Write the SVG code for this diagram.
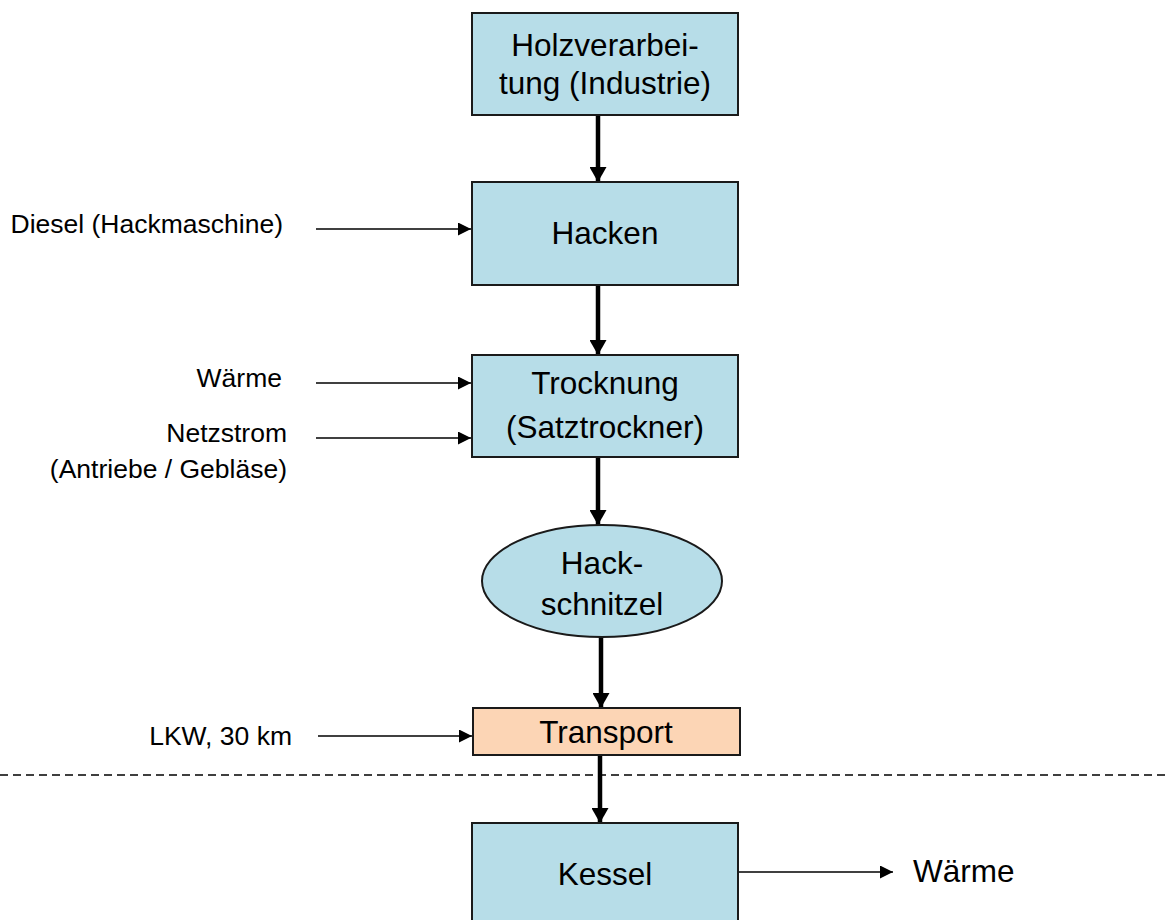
<svg xmlns="http://www.w3.org/2000/svg" width="1170" height="920" viewBox="0 0 1170 920">
<style>
.box{fill:#B7DDE8;stroke:#1a1a1a;stroke-width:2}
.peach{fill:#FCD5B5;stroke:#1a1a1a;stroke-width:2}
.t{font-family:"Liberation Sans",Arial,sans-serif;font-size:31.5px;fill:#000;text-anchor:middle}
.s{font-family:"Liberation Sans",Arial,sans-serif;font-size:26.5px;fill:#000;text-anchor:end}
.thick{stroke:#000;stroke-width:4.5;fill:none}
.thin{stroke:#000;stroke-width:1.6;fill:none}
</style>
<defs>
<marker id="ah" markerUnits="userSpaceOnUse" markerWidth="16" markerHeight="17" refX="15" refY="8.5" orient="auto">
<path d="M0,0 L15,8.5 L0,17 z" fill="#000"/>
</marker>
<marker id="as" markerUnits="userSpaceOnUse" markerWidth="14" markerHeight="13" refX="13" refY="6.5" orient="auto">
<path d="M0,0 L13,6.5 L0,13 z" fill="#000"/>
</marker>
</defs>
<rect width="1170" height="920" fill="#fff"/>

<g id="connectors">
<line class="thick" x1="598" y1="116" x2="598" y2="182" marker-end="url(#ah)"/>
<line class="thick" x1="598" y1="286" x2="598" y2="355" marker-end="url(#ah)"/>
<line class="thick" x1="598" y1="458" x2="598" y2="525" marker-end="url(#ah)"/>
<line class="thick" x1="601" y1="637" x2="601" y2="708" marker-end="url(#ah)"/>
<line class="thick" x1="600" y1="756" x2="600" y2="823" marker-end="url(#ah)"/>
<line class="thin" x1="316" y1="229" x2="471" y2="229" marker-end="url(#as)"/>
<line class="thin" x1="316" y1="383" x2="471" y2="383" marker-end="url(#as)"/>
<line class="thin" x1="316" y1="438" x2="471" y2="438" marker-end="url(#as)"/>
<line class="thin" x1="318" y1="736" x2="472" y2="736" marker-end="url(#as)"/>
<line class="thin" x1="739" y1="872" x2="893" y2="872" marker-end="url(#as)"/>
<line x1="0" y1="775" x2="1170" y2="775" stroke="#000" stroke-width="1.3" stroke-dasharray="8,5"/>
</g>

<g id="holzverarbeitung">
<rect class="box" x="472" y="13" width="266" height="102"/>
<text class="t" x="605" y="56">Holzverarbei-</text>
<text class="t" x="605" y="94">tung (Industrie)</text>
</g>

<g id="hacken">
<rect class="box" x="472" y="182" width="266" height="103"/>
<text class="t" x="605" y="244">Hacken</text>
</g>

<g id="trocknung">
<rect class="box" x="472" y="355" width="266" height="102"/>
<text class="t" x="605" y="394">Trocknung</text>
<text class="t" x="605" y="438">(Satztrockner)</text>
</g>

<g id="hackschnitzel">
<ellipse class="box" cx="602" cy="581" rx="120" ry="56"/>
<text class="t" x="602" y="574">Hack-</text>
<text class="t" x="602" y="615">schnitzel</text>
</g>

<g id="transport">
<rect class="peach" x="473" y="708" width="267" height="47"/>
<text class="t" x="606" y="743">Transport</text>
</g>

<g id="kessel">
<rect class="box" x="472" y="823" width="266" height="110"/>
<text class="t" x="605" y="885">Kessel</text>
</g>

<g id="label-diesel"><text class="s" x="283" y="233">Diesel (Hackmaschine)</text></g>
<g id="label-waerme-in"><text class="s" x="282" y="387">Wärme</text></g>
<g id="label-netzstrom">
<text class="s" x="287" y="442">Netzstrom</text>
<text class="s" x="287" y="478">(Antriebe / Gebläse)</text>
</g>
<g id="label-lkw"><text class="s" x="292" y="745">LKW, 30 km</text></g>
<g id="label-waerme-out"><text x="913" y="882" font-family="Liberation Sans, Arial, sans-serif" font-size="31.5" fill="#000">Wärme</text></g>
</svg>
